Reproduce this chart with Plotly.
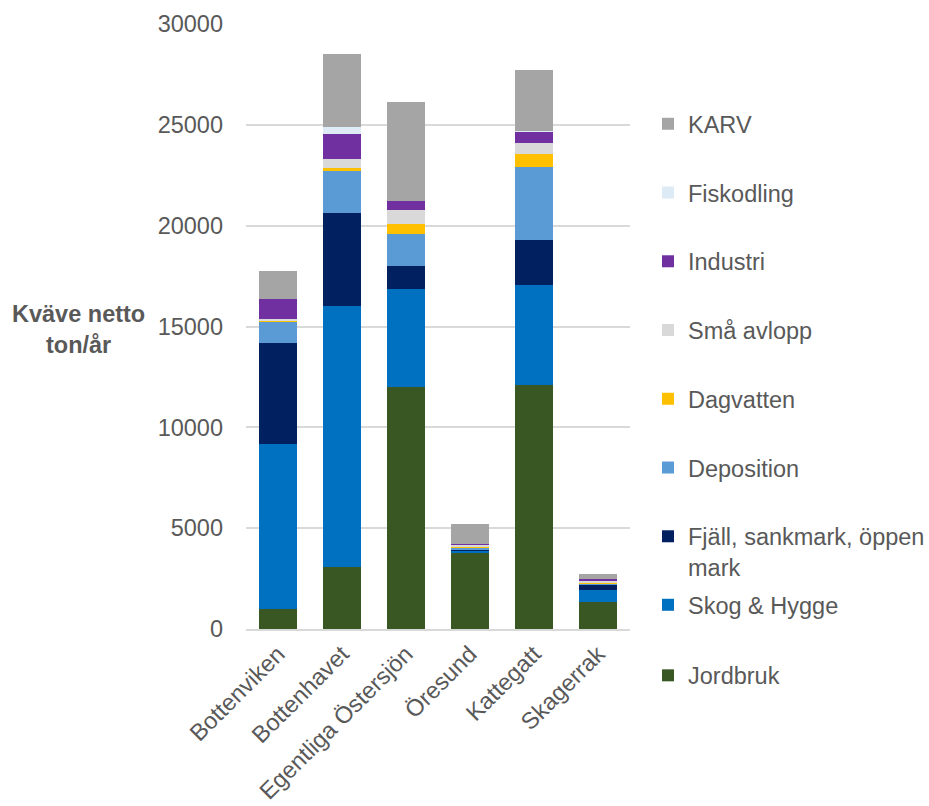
import plotly.graph_objects as go

# Havsområden
regions = ["Bottenviken", "Bottenhavet", "Egentliga Östersjön", "Öresund", "Kattegatt", "Skagerrak"]

# Kvävebelastning netto per källa (ton/år)
jordbruk = [970, 3070, 11980, 3810, 12090, 1340]
skog_hygge = [8190, 12950, 4870, 60, 4950, 570]
fjall_sankmark = [5000, 4600, 1150, 90, 2230, 250]
deposition = [1100, 2110, 1580, 40, 3630, 100]
dagvatten = [50, 130, 500, 100, 660, 70]
sma_avlopp = [80, 460, 690, 80, 560, 70]
industri = [950, 1240, 470, 50, 540, 60]
fiskodling = [0, 350, 0, 0, 40, 0]
karv = [1420, 3610, 4870, 960, 3000, 280]

y_ticks = [0, 5000, 10000, 15000, 20000, 25000, 30000]

# (namn, värden, färg, legend)
series = [
    ("Jordbruk", jordbruk, "#385723", "legend2"),
    ("Skog & Hygge", skog_hygge, "#0070C0", "legend2"),
    ("Fjäll, sankmark, öppen<br>mark", fjall_sankmark, "#002060", "legend"),
    ("Deposition", deposition, "#5B9BD5", "legend"),
    ("Dagvatten", dagvatten, "#FFC000", "legend"),
    ("Små avlopp", sma_avlopp, "#D9D9D9", "legend"),
    ("Industri", industri, "#7030A0", "legend"),
    ("Fiskodling", fiskodling, "#DDEBF7", "legend"),
    ("KARV", karv, "#A5A5A5", "legend"),
]

FONT = "Liberation Sans, Arial, sans-serif"
TEXT_GREY = "#595959"
FS = 23.5

L, R, T, B = 246, 299, 24, 177
W, H = 929, 806
plot_w = W - L - R
plot_h = H - T - B


def px_x(px):
    return (px - L) / plot_w


def px_y(px):
    return (H - B - px) / plot_h


fig = go.Figure()
n = len(series)
for i, (name, values, color, leg) in enumerate(series):
    fig.add_trace(go.Bar(
        x=regions,
        y=values,
        name=name,
        marker=dict(color=color, line=dict(width=0)),
        legendgroup=name,
        legendrank=n - i,
        legend=leg,
    ))

legend_style = dict(
    xref="container",
    yref="container",
    xanchor="left",
    yanchor="top",
    font=dict(family=FONT, size=FS, color=TEXT_GREY),
    itemwidth=30,
    valign="top",
    bgcolor="rgba(0,0,0,0)",
    maxheight=800,
)

fig.update_layout(
    barmode="stack",
    bargap=0.42,
    width=W,
    height=H,
    margin=dict(l=L, r=R, t=T, b=B, autoexpand=False),
    paper_bgcolor="white",
    plot_bgcolor="white",
    font=dict(family=FONT, size=FS, color=TEXT_GREY),
    showlegend=True,
    legend=dict(x=648 / W, y=1 - 102 / H, tracegroupgap=35.2, **legend_style),
    legend2=dict(x=648 / W, y=1 - 583 / H, tracegroupgap=37, **legend_style),
    xaxis=dict(
        automargin=False,
        tickangle=-45,
        showgrid=False,
        showline=True,
        linecolor="#D9D9D9",
        linewidth=2,
        ticks="",
        tickfont=dict(family=FONT, size=FS, color=TEXT_GREY),
    ),
    yaxis=dict(
        automargin=False,
        range=[0, 30000],
        tickvals=y_ticks,
        ticktext=[str(v) for v in y_ticks],
        showgrid=True,
        gridcolor="#D9D9D9",
        gridwidth=1.5,
        zeroline=False,
        showline=False,
        ticks="",
        ticklabelstandoff=22,
        tickfont=dict(family=FONT, size=FS, color=TEXT_GREY),
    ),
    annotations=[
        dict(
            text="<b>Kväve netto<br>ton/år</b>",
            x=px_x(78), xref="paper", xanchor="center",
            y=px_y(329), yref="paper", yanchor="middle",
            showarrow=False,
            font=dict(family=FONT, size=FS, color=TEXT_GREY),
            align="center",
        )
    ],
)

fig.write_html("out.html")
